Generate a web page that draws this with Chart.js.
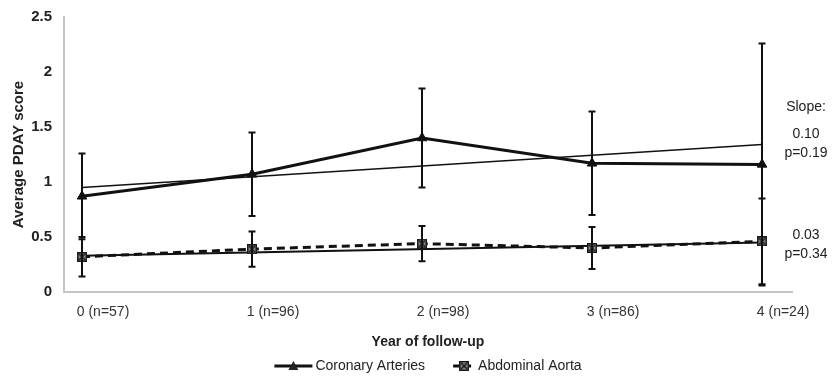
<!DOCTYPE html>
<html lang="en">
<head>
<meta charset="utf-8">
<title>Average PDAY score by year of follow-up</title>
<script src="https://cdn.jsdelivr.net/npm/chart.js@4.4.1/dist/chart.umd.min.js"></script>
<style>
  html, body { margin: 0; padding: 0; background: #fff; }
  #wrap { position: relative; width: 834px; height: 382px; }
</style>
</head>
<body>
<div id="wrap"><canvas id="chartPday"></canvas></div>
<script>
// Values
var years         = [0, 1, 2, 3, 4];
var xLabels       = ['0 (n=57)', '1 (n=96)', '2 (n=98)', '3 (n=86)', '4 (n=24)'];
var yTicks        = [0, 0.5, 1, 1.5, 2, 2.5];
var coronary      = [0.87, 1.07, 1.40, 1.17, 1.16];
var coronaryErr   = [0.39, 0.38, 0.45, 0.47, 1.10];
var aorta         = [0.32, 0.39, 0.44, 0.40, 0.46];
var aortaErr      = [0.18, 0.16, 0.16, 0.19, 0.39];
var trendYears    = [0, 4];
var coronaryTrend = [0.95, 1.34];
var aortaTrend    = [0.33, 0.45];
var slopeNotes    = [['0.10', 'p=0.19'], ['0.03', 'p=0.34']];

(function () {
    'use strict';

    var FONT = "'Liberation Sans', Arial, Helvetica, sans-serif";
    Chart.defaults.font.family = FONT;

    function pts(xs, ys) {
        return xs.map(function (x, i) { return { x: x, y: ys[i] }; });
    }

    // Square marker with a cross (Abdominal Aorta)
    function squareCross(size) {
        var c = document.createElement('canvas');
        c.width = c.height = size;
        var g = c.getContext('2d');
        g.fillStyle = '#8a8a8a';
        g.fillRect(0, 0, size, size);
        g.strokeStyle = '#1a1a1a';
        g.lineWidth = 1.5;
        g.strokeRect(0.75, 0.75, size - 1.5, size - 1.5);
        g.beginPath();
        g.moveTo(2, 2); g.lineTo(size - 2, size - 2);
        g.moveTo(size - 2, 2); g.lineTo(2, size - 2);
        g.stroke();
        return c;
    }
    var aortaMarker = squareCross(10);

    // Error bars (mean +/- error), drawn through the scales
    var errorBars = {
        id: 'errorBars',
        afterDatasetsDraw: function (chart) {
            var ctx = chart.ctx, xs = chart.scales.x, ys = chart.scales.y;
            ctx.save();
            ctx.strokeStyle = '#111';
            ctx.lineWidth = 2;
            [[coronary, coronaryErr], [aorta, aortaErr]].forEach(function (s) {
                years.forEach(function (yr, i) {
                    var x = Math.round(xs.getPixelForValue(yr));
                    var top = ys.getPixelForValue(s[0][i] + s[1][i]);
                    var bot = ys.getPixelForValue(s[0][i] - s[1][i]);
                    ctx.beginPath();
                    ctx.moveTo(x, top); ctx.lineTo(x, bot);
                    ctx.moveTo(x - 3.5, top); ctx.lineTo(x + 3.5, top);
                    ctx.moveTo(x - 3.5, bot); ctx.lineTo(x + 3.5, bot);
                    ctx.stroke();
                });
            });
            ctx.restore();
        }
    };

    // "Slope:" notes on the right, next to the end of each trend line
    var slopeText = {
        id: 'slopeText',
        afterDraw: function (chart) {
            var ctx = chart.ctx, ys = chart.scales.y;
            var x = chart.chartArea.right + 14;
            ctx.save();
            ctx.fillStyle = '#222';
            ctx.font = '14px ' + FONT;
            ctx.textAlign = 'center';
            ctx.textBaseline = 'middle';
            var yc = ys.getPixelForValue(coronaryTrend[1]);
            var ya = ys.getPixelForValue(aortaTrend[1]);
            ctx.fillText('Slope:', x, yc - 37);
            ctx.fillText(slopeNotes[0][0], x, yc - 10);
            ctx.fillText(slopeNotes[0][1], x, yc + 9);
            ctx.fillText(slopeNotes[1][0], x, ya - 7);
            ctx.fillText(slopeNotes[1][1], x, ya + 12);
            ctx.restore();
        }
    };

    // Legend at the bottom: line + marker, then label
    var bottomLegend = {
        id: 'bottomLegend',
        afterDraw: function (chart) {
            var ctx = chart.ctx;
            var y = chart.height - 16;
            ctx.save();
            ctx.font = '14px ' + FONT;
            ctx.textBaseline = 'middle';
            ctx.fillStyle = '#222';
            var t1 = 'Coronary Arteries', t2 = 'Abdominal Aorta';
            var w1 = 38 + 3 + ctx.measureText(t1).width;
            var w2 = 22 + 3 + ctx.measureText(t2).width;
            var total = w1 + 28 + w2;
            var x = (chart.chartArea.left + chart.chartArea.right) / 2 - total / 2;

            ctx.strokeStyle = '#111';
            ctx.lineWidth = 3;
            ctx.beginPath(); ctx.moveTo(x, y); ctx.lineTo(x + 38, y); ctx.stroke();
            ctx.beginPath();
            ctx.moveTo(x + 19, y - 5); ctx.lineTo(x + 24, y + 4); ctx.lineTo(x + 14, y + 4);
            ctx.closePath(); ctx.fill();
            ctx.fillText(t1, x + 41, y);

            x += w1 + 28;
            ctx.setLineDash([7, 4]);
            ctx.beginPath(); ctx.moveTo(x, y); ctx.lineTo(x + 22, y); ctx.stroke();
            ctx.setLineDash([]);
            ctx.drawImage(aortaMarker, x + 6, y - 5);
            ctx.fillText(t2, x + 25, y);
            ctx.restore();
        }
    };

    var canvas = document.getElementById('chartPday');

    new Chart(canvas, {
        type: 'line',
        data: {
            datasets: [{
                label: 'Coronary Arteries',
                data: pts(years, coronary),
                borderColor: '#111',
                borderWidth: 3,
                backgroundColor: '#111',
                pointStyle: 'triangle',
                pointRadius: 5.5,
                pointBorderWidth: 1,
                tension: 0
            }, {
                label: 'Abdominal Aorta',
                data: pts(years, aorta),
                borderColor: '#111',
                borderWidth: 3,
                borderDash: [8, 5],
                pointStyle: aortaMarker,
                tension: 0
            }, {
                label: 'Coronary trend',
                data: pts(trendYears, coronaryTrend),
                borderColor: '#111',
                borderWidth: 1.5,
                pointRadius: 0
            }, {
                label: 'Aorta trend',
                data: pts(trendYears, aortaTrend),
                borderColor: '#111',
                borderWidth: 2,
                pointRadius: 0
            }]
        },
        options: {
            responsive: true,
            maintainAspectRatio: false,
            animation: false,
            layout: { padding: { top: 17, right: 42, left: 0, bottom: 0 } },
            plugins: {
                legend: { display: false },
                tooltip: { enabled: false }
            },
            scales: {
                x: {
                    type: 'linear',
                    min: -0.106,
                    max: 4.176,
                    afterBuildTicks: function (s) {
                        s.ticks = years.map(function (v) { return { value: v }; });
                    },
                    afterFit: function (s) { s.height = 90; },
                    grid: { display: false, drawTicks: false },
                    border: { color: '#c4c4c4', width: 2 },
                    ticks: {
                        autoSkip: false,
                        maxRotation: 0,
                        padding: 12,
                        labelOffset: 21,
                        color: '#333',
                        font: { size: 14 },
                        callback: function (v, i) { return xLabels[i]; }
                    },
                    title: {
                        display: true,
                        text: 'Year of follow-up',
                        color: '#222',
                        font: { size: 14, weight: 'bold' },
                        padding: { top: 0, bottom: 31 }
                    }
                },
                y: {
                    min: 0,
                    max: 2.5,
                    afterBuildTicks: function (s) {
                        s.ticks = yTicks.map(function (v) { return { value: v }; });
                    },
                    // fixed width; the label padding must not push the plot area down
                    afterFit: function (s) { s.width = 64; s.paddingTop = 0; s.paddingBottom = 0; },
                    grid: { display: false, drawTicks: false },
                    border: { color: '#c4c4c4', width: 2 },
                    ticks: {
                        padding: 12,
                        color: '#222',
                        font: { size: 15, weight: 'bold' },
                        callback: function (v) { return String(v); }
                    },
                    title: {
                        display: true,
                        text: 'Average PDAY score',
                        color: '#222',
                        font: { size: 15, weight: 'bold' },
                        padding: { top: 10, bottom: 0 }
                    }
                }
            }
        },
        plugins: [errorBars, slopeText, bottomLegend]
    });
})();
</script>
</body>
</html>
